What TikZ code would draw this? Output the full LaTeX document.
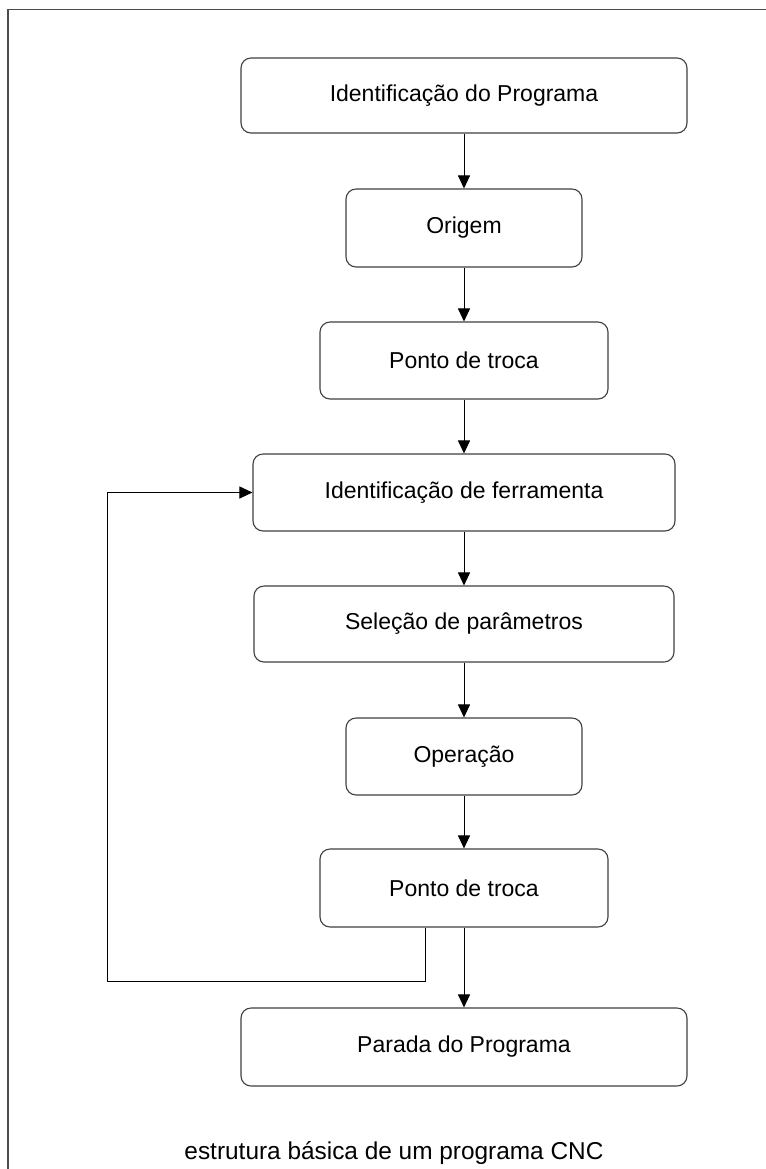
\documentclass[tikz,border=0pt]{standalone}
\usepackage{fontspec}
\setmainfont{Liberation Sans}
\usetikzlibrary{arrows.meta}
\begin{document}
\begin{tikzpicture}[x=0.5pt,y=-0.5pt,
  box/.style={draw=black!75,line width=0.55pt,rounded corners=5pt,inner sep=0pt,
    font=\fontsize{11.5}{14}\selectfont,align=center},
  flow/.style={draw=black,line width=0.5pt,-{Triangle[length=6.5pt,width=6pt]}},
  frame/.style={draw=black!70,line width=0.7pt}]
\useasboundingbox (0,0) rectangle (766,1169);
\fill[white] (0,0) rectangle (766,1169);
\draw[frame] (8,1169) -- (8,9.5) -- (766,9.5);
\node[box,minimum width=223pt,minimum height=37.5pt] (b1) at (464,95.5) {Identificação do Programa};
\node[box,minimum width=118pt,minimum height=39pt] (b2) at (464,228) {Origem};
\node[box,minimum width=144pt,minimum height=38.5pt] (b3) at (464,360.5) {Ponto de troca};
\node[box,minimum width=211pt,minimum height=38.5pt] (b4) at (464,492.5) {Identificação de ferramenta};
\node[box,minimum width=210pt,minimum height=38pt] (b5) at (464,624) {Seleção de parâmetros};
\node[box,minimum width=118pt,minimum height=38.5pt] (b6) at (464,756.5) {Operação};
\node[box,minimum width=144pt,minimum height=39pt] (b7) at (464,888) {Ponto de troca};
\node[box,minimum width=223pt,minimum height=39pt] (b8) at (464,1047) {Parada do Programa};
\node[font=\fontsize{12.2}{14}\selectfont] (cap) at (394,1153) {estrutura básica de um programa CNC};
\draw[flow] (b1) -- (b2);
\draw[flow] (b2) -- (b3);
\draw[flow] (b3) -- (b4);
\draw[flow] (b4) -- (b5);
\draw[flow] (b5) -- (b6);
\draw[flow] (b6) -- (b7);
\draw[flow] (b7) -- (b8);
\coordinate (c1) at (425,981);
\coordinate (c2) at (107,981);
\draw[flow] (b7.south -| c1) -- (c1) -- (c2) |- (b4.west);
\end{tikzpicture}
\end{document}
